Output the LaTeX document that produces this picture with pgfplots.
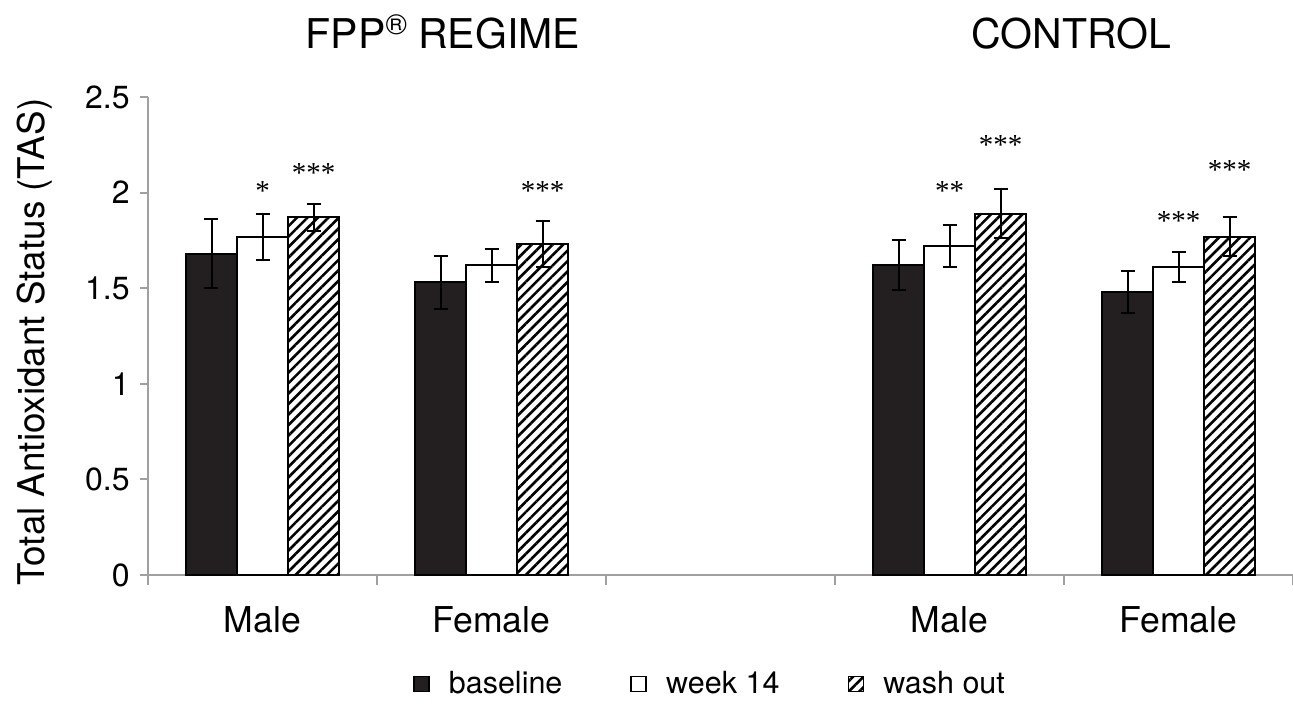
\documentclass[border=0pt]{standalone}
\usepackage{fontspec}
\setmainfont{TeX Gyre Heros}
\newfontfamily\starfont{Liberation Serif}
\usepackage{pgfplots}
\pgfplotsset{compat=1.18}
\usetikzlibrary{patterns.meta}
\definecolor{barblack}{HTML}{231F20}
\definecolor{axgray}{HTML}{A0A0A0}
\begin{document}
\begin{tikzpicture}
\begin{axis}[
  scale only axis,
  width=572.5pt, height=239pt,
  xmin=-0.5, xmax=4.5, ymin=0, ymax=2.5,
  clip=false,
  ybar=0pt, bar width=25.5pt,
  axis x line*=bottom, axis y line*=left,
  axis line style={axgray, line width=1pt},
  tick align=outside,
  xtick={0,1,3,4}, xticklabels={Male,Female,Male,Female},
  major x tick style={draw=none},
  minor xtick={-0.5,0.5,1.5,2.5,3.5,4.5},
  minor tick length=5pt,
  minor x tick style={axgray, line width=1pt},
  ytick={0,0.5,1,1.5,2,2.5},
  yticklabels={0,0.5,1,1.5,2,2.5},
  major tick length=4pt,
  y tick style={axgray, line width=1pt},
  xticklabel style={font=\fontsize{17.8}{20}\selectfont, anchor=base, yshift=-24.5pt},
  yticklabel style={font=\fontsize{16}{18}\selectfont, inner xsep=0pt, xshift=-5pt},
  /pgf/number format/assume math mode=true,
  legend columns=3,
  legend style={at={(0.4917,-0.228)}, anchor=center, draw=none, fill=none,
    font=\fontsize{15.25}{18}\selectfont,
    /tikz/every odd column/.append style={column sep=7.5pt},
    /tikz/every even column/.append style={column sep=32pt}},
  legend image code/.code={\draw[#1, line width=0.9pt] (0pt,-3.75pt) rectangle (7.5pt,3.75pt);},
  error bars/y dir=both, error bars/y explicit,
  error bars/error bar style={black, line width=1pt},
  error bars/error mark options={black, line width=1pt, mark size=3.5pt, rotate=90},
]
\addplot[draw=black, line width=1pt, fill=barblack] coordinates {
  (0,1.68) +- (0,0.18)
  (1,1.53) +- (0,0.14)
  (3,1.62) +- (0,0.13)
  (4,1.48) +- (0,0.11)
};
\addplot[draw=black, line width=1pt, fill=white] coordinates {
  (0,1.77) +- (0,0.12)
  (1,1.62) +- (0,0.085)
  (3,1.72) +- (0,0.11)
  (4,1.61) +- (0,0.08)
};
\addplot[draw=black, line width=1pt, fill=white, pattern={Lines[angle=45, distance=3.7pt, line width=1.3pt]}, pattern color=black] coordinates {
  (0,1.87) +- (0,0.07)
  (1,1.73) +- (0,0.12)
  (3,1.89) +- (0,0.13)
  (4,1.77) +- (0,0.10)
};
\legend{baseline, week 14, wash out}
% significance stars
\tikzset{star/.style={anchor=north, inner sep=0pt, font=\starfont\fontsize{14.5}{16}\selectfont}}
\node[star] at (axis cs:0,2.058) {*};
\node[star] at (axis cs:0.2227,2.156) {***};
\node[star] at (axis cs:1.2227,2.062) {***};
\node[star] at (axis cs:3,2.062) {**};
\node[star] at (axis cs:3.2227,2.303) {***};
\node[star] at (axis cs:4,1.902) {***};
\node[star] at (axis cs:4.2227,2.172) {***};
% titles
\node[anchor=base, font=\fontsize{20.5}{24}\selectfont] at (axis cs:0.788,2.756) {FPP\raisebox{6.8pt}{\fontsize{14.5}{16}\selectfont ®} REGIME};
\node[anchor=base, font=\fontsize{20.5}{24}\selectfont] at (axis cs:3.531,2.756) {CONTROL};
% y label
\node[xshift=-56.5pt, rotate=90, anchor=center, font=\fontsize{18.4}{22}\selectfont] at (rel axis cs:0,0.4874) {Total Antioxidant Status (TAS)};
\coordinate (O) at (rel axis cs:0,0);
\end{axis}
\pgfresetboundingbox
\path ([shift={(-74pt,-64pt)}]O) rectangle ([shift={(572.5pt,287.5pt)}]O);
\end{tikzpicture}
\end{document}
